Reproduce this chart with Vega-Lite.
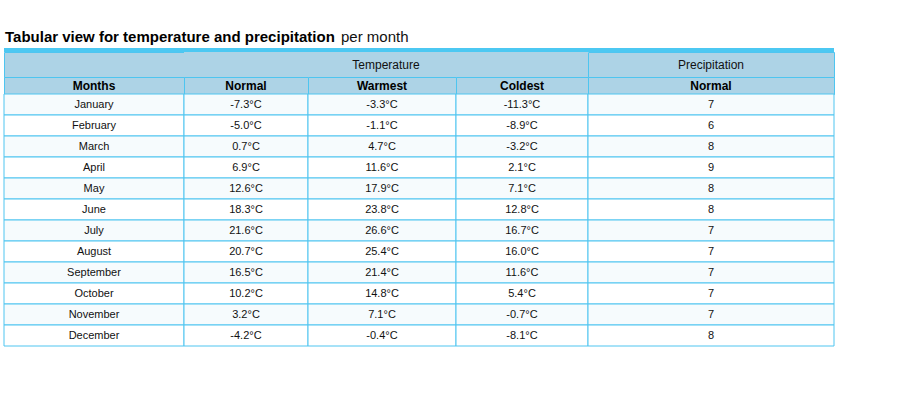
{
  "$schema": "https://vega.github.io/schema/vega-lite/v6.json",
  "padding": {"left": 3, "top": 26, "right": 0, "bottom": 0},
  "background": "#ffffff",
  "datasets": {
    "rows": [
      {"month": "January", "m": 1, "normal": "-7.3°C", "warmest": "-3.3°C", "coldest": "-11.3°C", "precip": 7},
      {"month": "February", "m": 2, "normal": "-5.0°C", "warmest": "-1.1°C", "coldest": "-8.9°C", "precip": 6},
      {"month": "March", "m": 3, "normal": "0.7°C", "warmest": "4.7°C", "coldest": "-3.2°C", "precip": 8},
      {"month": "April", "m": 4, "normal": "6.9°C", "warmest": "11.6°C", "coldest": "2.1°C", "precip": 9},
      {"month": "May", "m": 5, "normal": "12.6°C", "warmest": "17.9°C", "coldest": "7.1°C", "precip": 8},
      {"month": "June", "m": 6, "normal": "18.3°C", "warmest": "23.8°C", "coldest": "12.8°C", "precip": 8},
      {"month": "July", "m": 7, "normal": "21.6°C", "warmest": "26.6°C", "coldest": "16.7°C", "precip": 7},
      {"month": "August", "m": 8, "normal": "20.7°C", "warmest": "25.4°C", "coldest": "16.0°C", "precip": 7},
      {"month": "September", "m": 9, "normal": "16.5°C", "warmest": "21.4°C", "coldest": "11.6°C", "precip": 7},
      {"month": "October", "m": 10, "normal": "10.2°C", "warmest": "14.8°C", "coldest": "5.4°C", "precip": 7},
      {"month": "November", "m": 11, "normal": "3.2°C", "warmest": "7.1°C", "coldest": "-0.7°C", "precip": 7},
      {"month": "December", "m": 12, "normal": "-4.2°C", "warmest": "-0.4°C", "coldest": "-8.1°C", "precip": 8}
    ],
    "blank": [{"t": ""}]
  },
  "columns": 5,
  "spacing": 0,
  "bounds": "flush",
  "align": "each",
  "concat": [
    {
      "width": 180, "height": 22,
      "data": {"values": [{"a": "Tabular view for temperature and precipitation", "b": "per month"}]},
      "layer": [
        {"mark": {"type": "text", "align": "left", "baseline": "middle", "fontSize": 15, "fontWeight": "bold", "color": "#000000", "x": 1},
         "encoding": {"text": {"field": "a"}}},
        {"mark": {"type": "text", "align": "left", "baseline": "middle", "fontSize": 15, "color": "#111111", "x": 1, "dx": 336},
         "encoding": {"text": {"field": "b"}}}
      ]
    },
    {"width": 124, "height": 22, "data": {"name": "blank"}, "mark": "text", "encoding": {"text": {"field": "t"}}},
    {"width": 148, "height": 22, "data": {"name": "blank"}, "mark": "text", "encoding": {"text": {"field": "t"}}},
    {"width": 132, "height": 22, "data": {"name": "blank"}, "mark": "text", "encoding": {"text": {"field": "t"}}},
    {"width": 246, "height": 22, "data": {"name": "blank"}, "mark": "text", "encoding": {"text": {"field": "t"}}},

    {"width": 180, "height": 4, "data": {"name": "blank"}, "mark": "text", "encoding": {"text": {"field": "t"}}, "view": {"fill": "#4cc8f2", "stroke": null}},
    {"width": 124, "height": 4, "data": {"name": "blank"}, "mark": "text", "encoding": {"text": {"field": "t"}}, "view": {"fill": "#4cc8f2", "stroke": null}},
    {"width": 148, "height": 4, "data": {"name": "blank"}, "mark": "text", "encoding": {"text": {"field": "t"}}, "view": {"fill": "#4cc8f2", "stroke": null}},
    {"width": 132, "height": 4, "data": {"name": "blank"}, "mark": "text", "encoding": {"text": {"field": "t"}}, "view": {"fill": "#4cc8f2", "stroke": null}},
    {"width": 246, "height": 4, "data": {"name": "blank"}, "mark": "text", "encoding": {"text": {"field": "t"}}, "view": {"fill": "#4cc8f2", "stroke": null}},

    {"width": 180, "height": 25, "data": {"name": "blank"}, "mark": "text", "encoding": {"text": {"field": "t"}}, "view": {"fill": "#add3e6", "stroke": "#4ec5f0"}},
    {"width": 124, "height": 25, "data": {"name": "blank"}, "mark": "text", "encoding": {"text": {"field": "t"}}, "view": {"fill": "#add3e6", "stroke": null}},
    {"width": 148, "height": 25, "data": {"values": [{"t": "Temperature"}]},
     "mark": {"type": "text", "fontSize": 12, "color": "#111111", "dx": 4},
     "encoding": {"text": {"field": "t"}},
     "view": {"fill": "#add3e6", "stroke": null}},
    {"width": 132, "height": 25, "data": {"name": "blank"}, "mark": "text", "encoding": {"text": {"field": "t"}}, "view": {"fill": "#add3e6", "stroke": null}},
    {"width": 246, "height": 25, "data": {"values": [{"t": "Precipitation"}]},
     "mark": {"type": "text", "fontSize": 12, "color": "#111111"},
     "encoding": {"text": {"field": "t"}},
     "view": {"fill": "#add3e6", "stroke": "#4ec5f0"}},

    {"width": 180, "height": 17, "data": {"values": [{"t": "Months"}]},
     "mark": {"type": "text", "fontSize": 12, "fontWeight": "bold", "color": "#000000"},
     "encoding": {"text": {"field": "t"}},
     "view": {"fill": "#add3e6", "stroke": "#4ec5f0"}},
    {"width": 124, "height": 17, "data": {"values": [{"t": "Normal"}]},
     "mark": {"type": "text", "fontSize": 12, "fontWeight": "bold", "color": "#000000"},
     "encoding": {"text": {"field": "t"}},
     "view": {"fill": "#add3e6", "stroke": "#4ec5f0"}},
    {"width": 148, "height": 17, "data": {"values": [{"t": "Warmest"}]},
     "mark": {"type": "text", "fontSize": 12, "fontWeight": "bold", "color": "#000000"},
     "encoding": {"text": {"field": "t"}},
     "view": {"fill": "#add3e6", "stroke": "#4ec5f0"}},
    {"width": 132, "height": 17, "data": {"values": [{"t": "Coldest"}]},
     "mark": {"type": "text", "fontSize": 12, "fontWeight": "bold", "color": "#000000"},
     "encoding": {"text": {"field": "t"}},
     "view": {"fill": "#add3e6", "stroke": "#4ec5f0"}},
    {"width": 246, "height": 17, "data": {"values": [{"t": "Normal"}]},
     "mark": {"type": "text", "fontSize": 12, "fontWeight": "bold", "color": "#000000"},
     "encoding": {"text": {"field": "t"}},
     "view": {"fill": "#add3e6", "stroke": "#4ec5f0"}},

    {"width": 180, "height": 252, "data": {"name": "rows"},
     "encoding": {"y": {"field": "month", "type": "ordinal", "sort": {"field": "m"}, "axis": null, "scale": {"paddingInner": 0, "paddingOuter": 0}}},
     "layer": [
       {"mark": {"type": "rect", "stroke": "#4ec5f0", "strokeWidth": 1},
        "encoding": {"fill": {"condition": {"test": "datum.m % 2 == 1", "value": "#f6fbfd"}, "value": "#ffffff"}}},
       {"mark": {"type": "text", "fontSize": 11, "color": "#111111"},
        "encoding": {"text": {"field": "month"}}}
     ]},
    {"width": 124, "height": 252, "data": {"name": "rows"},
     "encoding": {"y": {"field": "month", "type": "ordinal", "sort": {"field": "m"}, "axis": null, "scale": {"paddingInner": 0, "paddingOuter": 0}}},
     "layer": [
       {"mark": {"type": "rect", "stroke": "#4ec5f0", "strokeWidth": 1},
        "encoding": {"fill": {"condition": {"test": "datum.m % 2 == 1", "value": "#f6fbfd"}, "value": "#ffffff"}}},
       {"mark": {"type": "text", "fontSize": 11, "color": "#111111"},
        "encoding": {"text": {"field": "normal"}}}
     ]},
    {"width": 148, "height": 252, "data": {"name": "rows"},
     "encoding": {"y": {"field": "month", "type": "ordinal", "sort": {"field": "m"}, "axis": null, "scale": {"paddingInner": 0, "paddingOuter": 0}}},
     "layer": [
       {"mark": {"type": "rect", "stroke": "#4ec5f0", "strokeWidth": 1},
        "encoding": {"fill": {"condition": {"test": "datum.m % 2 == 1", "value": "#f6fbfd"}, "value": "#ffffff"}}},
       {"mark": {"type": "text", "fontSize": 11, "color": "#111111"},
        "encoding": {"text": {"field": "warmest"}}}
     ]},
    {"width": 132, "height": 252, "data": {"name": "rows"},
     "encoding": {"y": {"field": "month", "type": "ordinal", "sort": {"field": "m"}, "axis": null, "scale": {"paddingInner": 0, "paddingOuter": 0}}},
     "layer": [
       {"mark": {"type": "rect", "stroke": "#4ec5f0", "strokeWidth": 1},
        "encoding": {"fill": {"condition": {"test": "datum.m % 2 == 1", "value": "#f6fbfd"}, "value": "#ffffff"}}},
       {"mark": {"type": "text", "fontSize": 11, "color": "#111111"},
        "encoding": {"text": {"field": "coldest"}}}
     ]},
    {"width": 246, "height": 252, "data": {"name": "rows"},
     "encoding": {"y": {"field": "month", "type": "ordinal", "sort": {"field": "m"}, "axis": null, "scale": {"paddingInner": 0, "paddingOuter": 0}}},
     "layer": [
       {"mark": {"type": "rect", "stroke": "#4ec5f0", "strokeWidth": 1},
        "encoding": {"fill": {"condition": {"test": "datum.m % 2 == 1", "value": "#f6fbfd"}, "value": "#ffffff"}}},
       {"mark": {"type": "text", "fontSize": 11, "color": "#111111"},
        "encoding": {"text": {"field": "precip"}}}
     ]}
  ],
  "config": {
    "font": "Liberation Sans",
    "view": {"stroke": null},
    "concat": {"spacing": 0},
    "text": {"font": "Liberation Sans"}
  }
}
